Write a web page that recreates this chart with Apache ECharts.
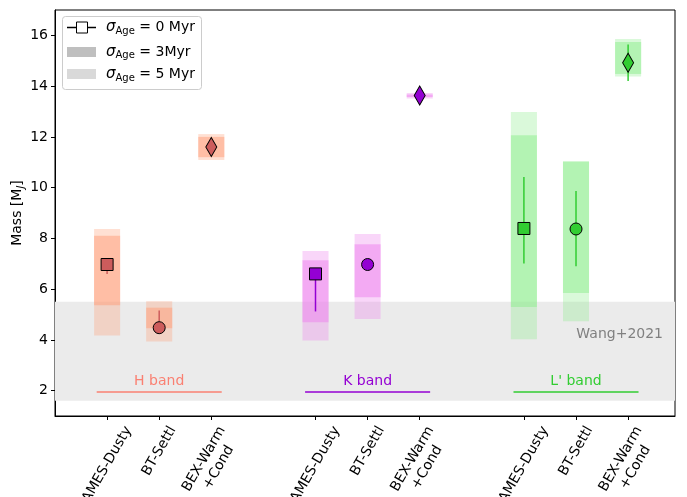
<!DOCTYPE html>
<html>
<head>
<meta charset="utf-8">
<script src="https://cdn.jsdelivr.net/npm/echarts@6/dist/echarts.min.js"></script>
<style>html,body{margin:0;padding:0;background:#fff}#c{width:687px;height:497px}</style>
</head>
<body>
<div id="c"></div>
<script>
// ---- data ----
const modelLabels = ['AMES-Dusty', 'BT-Settl', 'BEX-Warm\n+Cond', 'AMES-Dusty', 'BT-Settl', 'BEX-Warm\n+Cond', 'AMES-Dusty', 'BT-Settl', 'BEX-Warm\n+Cond'];
const xPositions = [1, 2, 3, 5, 6, 7, 9, 10, 11];
const groupOf = [0, 0, 0, 1, 1, 1, 2, 2, 2];
const symbolOf = ['square', 'circle', 'diamond', 'square', 'circle', 'diamond', 'square', 'circle', 'diamond'];
const bandNames = ['H band', 'K band', "L' band"];
const bandStart = [0.8, 4.8, 8.8];
const bandEnd = [3.2, 7.2, 11.2];
const bandCenter = [2, 6, 10];
const mass = [6.97, 4.48, 11.6, 6.6, 6.97, 13.63, 8.39, 8.37, 14.92];
const errLow = [6.6, 4.3, 11.5, 5.12, 6.9, 13.58, 7.01, 6.9, 14.2];
const errHigh = [7.1, 5.16, 11.7, 6.7, 7.05, 13.68, 10.42, 9.87, 15.64];
const range3Low = [5.36, 4.46, 11.2, 4.69, 5.68, 13.57, 5.30, 5.85, 14.48];
const range3High = [8.10, 5.27, 12.0, 7.14, 7.77, 13.67, 12.06, 11.03, 15.74];
const range5Low = [4.17, 3.94, 11.09, 3.98, 4.82, 13.51, 4.02, 4.73, 14.38];
const range5High = [8.37, 5.52, 12.11, 7.50, 8.17, 13.73, 12.98, 11.03, 15.86];
const wangRange = [1.6, 5.5];
const wangLabel = 'Wang+2021';
const yTicks = [2, 4, 6, 8, 10, 12, 14, 16];

// ---- styles ----
const barRGB = [[255, 160, 122], [238, 130, 238], [144, 238, 144]];
const markerColor = ['#CD5C5C', '#9400D3', '#32CD32'];
const bandColor = ['#FA8072', '#9400D3', '#32CD32'];
const FONT = 'DejaVu Sans';
const FS = 14;
const rgba = (c, a) => `rgba(${c[0]},${c[1]},${c[2]},${a})`;

const measureCtx = document.createElement('canvas').getContext('2d');
measureCtx.font = FS + 'px "DejaVu Sans"';

const chart = echarts.init(document.getElementById('c'));

function barSeries(lows, highs, alpha, z) {
  return {
    type: 'custom', z: z,
    data: xPositions.map((x, i) => [x, lows[i], highs[i], groupOf[i]]),
    renderItem: (params, api) => {
      const x = api.value(0), lo = api.value(1), hi = api.value(2), g = api.value(3);
      const p1 = api.coord([x - 0.25, hi]);
      const p2 = api.coord([x + 0.25, lo]);
      return { type: 'rect', shape: { x: p1[0], y: p1[1], width: p2[0] - p1[0], height: p2[1] - p1[1] },
        style: { fill: rgba(barRGB[g], alpha) } };
    }
  };
}

const diamondPath = 'path://M0,-1 L0.58,0 L0,1 L-0.58,0 Z';
const symbolMap = { square: 'rect', circle: 'circle', diamond: diamondPath };
const sizeMap = { square: [12, 12], circle: [12, 12], diamond: [11, 19] };
const legendRich = { s: { fontSize: 15, fontStyle: 'italic', fontFamily: FONT }, a: { fontSize: 10, fontFamily: FONT, padding: [7, 0, 0, 0] } };

const option = {
  animation: false,
  backgroundColor: '#fff',
  textStyle: { fontFamily: FONT },
  grid: { left: 55, right: 12, top: 10, bottom: 81, containLabel: false, outerBoundsMode: 'none',
    show: true, borderColor: '#000', borderWidth: 1, backgroundColor: 'transparent' },
  xAxis: {
    type: 'value', min: 0, max: 11.9,
    splitLine: { show: false },
    axisLine: { show: true, lineStyle: { color: '#000' } },
    axisTick: { show: true, length: 4, lineStyle: { color: '#000' }, customValues: xPositions },
    axisLabel: { show: false }
  },
  yAxis: {
    type: 'value', min: 1, max: 17,
    splitLine: { show: false },
    axisLine: { show: true, lineStyle: { color: '#000' } },
    axisTick: { show: true, length: 4, lineStyle: { color: '#000' }, customValues: yTicks },
    axisLabel: { customValues: yTicks, fontSize: FS, color: '#000', margin: 7, fontFamily: FONT },
    name: 'Mass [M{j|J}]', nameLocation: 'middle', nameGap: 29, nameMoveOverlap: false,
    nameTextStyle: { fontSize: FS, color: '#000', fontFamily: FONT,
      rich: { j: { fontSize: 10, verticalAlign: 'bottom', padding: [7, 0, 0, 0], fontStyle: 'italic', color: '#000', fontFamily: FONT } } }
  },
  series: [
    {
      type: 'custom', z: 1,
      data: [[wangRange[0], wangRange[1]]],
      renderItem: (params, api) => {
        const cs = params.coordSys;
        const top = api.coord([0, api.value(1)])[1];
        const bot = api.coord([0, api.value(0)])[1];
        const t = api.coord([11.67, 4.22]);
        return { type: 'group', children: [
          { type: 'rect', shape: { x: cs.x, y: top, width: cs.width, height: bot - top }, style: { fill: '#EBEBEB' } },
          { type: 'text', z2: 100, style: { text: wangLabel, x: t[0], y: t[1], fill: '#808080', font: FS + 'px "DejaVu Sans"', align: 'right', verticalAlign: 'middle' } }
        ] };
      }
    },
    barSeries(range5Low, range5High, 0.33, 2),
    barSeries(range3Low, range3High, 0.52, 3),
    {
      type: 'custom', z: 4,
      data: bandNames.map((n, i) => [bandStart[i], bandEnd[i], bandCenter[i], i]),
      renderItem: (params, api) => {
        const g = api.value(3);
        const a = api.coord([api.value(0), 1.95]);
        const b = api.coord([api.value(1), 1.95]);
        const t = api.coord([api.value(2), 2.35]);
        return { type: 'group', children: [
          { type: 'line', shape: { x1: a[0], y1: a[1], x2: b[0], y2: b[1] }, style: { stroke: bandColor[g], lineWidth: 1.5 } },
          { type: 'text', style: { text: bandNames[g], x: t[0], y: t[1], fill: bandColor[g], font: FS + 'px "DejaVu Sans"', align: 'center', verticalAlign: 'middle' } }
        ] };
      }
    },
    {
      type: 'custom', z: 5,
      data: xPositions.map((x, i) => [x, errLow[i], errHigh[i], groupOf[i]]),
      renderItem: (params, api) => {
        const x = api.value(0);
        const a = api.coord([x, api.value(1)]);
        const b = api.coord([x, api.value(2)]);
        return { type: 'line', shape: { x1: a[0], y1: a[1], x2: b[0], y2: b[1] }, style: { stroke: markerColor[groupOf[params.dataIndex]], lineWidth: 1.5 } };
      }
    },
    {
      type: 'scatter', z: 6,
      data: xPositions.map((x, i) => ({
        value: [x, mass[i]],
        symbol: symbolMap[symbolOf[i]],
        symbolSize: sizeMap[symbolOf[i]],
        itemStyle: { color: markerColor[groupOf[i]], borderColor: '#000', borderWidth: 1, opacity: 1 }
      }))
    },
    {
      // x tick labels, rotated 60 deg, bounding box centred under each tick
      type: 'custom', z: 10, clip: false,
      data: xPositions.map((x, i) => [x, i]),
      renderItem: (params, api) => {
        const i = params.dataIndex;
        const cs = params.coordSys;
        const px = api.coord([api.value(0), 1])[0];
        const axisY = cs.y + cs.height;
        const lines = modelLabels[i].split('\n');
        const L = Math.max.apply(null, lines.map(s => measureCtx.measureText(s).width));
        const lineH = FS * 1.2;
        const h = (lines.length - 1) * lineH + FS * 1.16;
        const H = 0.866 * L + 0.5 * h;
        return { type: 'text', x: px, y: axisY + 7.5 + H / 2, rotation: Math.PI / 3,
          style: { text: modelLabels[i], font: FS + 'px "DejaVu Sans"', fill: '#000', align: 'center', verticalAlign: 'middle', lineHeight: lineH } };
      }
    }
  ],
  graphic: [
    { type: 'rect', z: 100, shape: { x: 62.5, y: 16.5, width: 139, height: 73, r: 3 }, style: { fill: 'rgba(255,255,255,0.8)', stroke: '#CCCCCC', lineWidth: 1 } },
    { type: 'line', z: 101, shape: { x1: 67, y1: 27.5, x2: 96, y2: 27.5 }, style: { stroke: '#000', lineWidth: 1.5 } },
    { type: 'rect', z: 102, shape: { x: 76.5, y: 22, width: 11, height: 11 }, style: { fill: '#fff', stroke: '#000', lineWidth: 1 } },
    { type: 'rect', z: 101, shape: { x: 67, y: 47, width: 29, height: 10 }, style: { fill: '#BFBFBF' } },
    { type: 'rect', z: 101, shape: { x: 67, y: 69, width: 29, height: 10 }, style: { fill: '#D9D9D9' } },
    { type: 'text', z: 101, style: { x: 106, y: 27.5, text: '{s|σ}{a|Age} = 0 Myr', font: FS + 'px "DejaVu Sans"', fill: '#000', verticalAlign: 'middle', rich: legendRich } },
    { type: 'text', z: 101, style: { x: 106, y: 52, text: '{s|σ}{a|Age} = 3Myr', font: FS + 'px "DejaVu Sans"', fill: '#000', verticalAlign: 'middle', rich: legendRich } },
    { type: 'text', z: 101, style: { x: 106, y: 74.5, text: '{s|σ}{a|Age} = 5 Myr', font: FS + 'px "DejaVu Sans"', fill: '#000', verticalAlign: 'middle', rich: legendRich } }
  ]
};
chart.setOption(option);
</script>
</body>
</html>
